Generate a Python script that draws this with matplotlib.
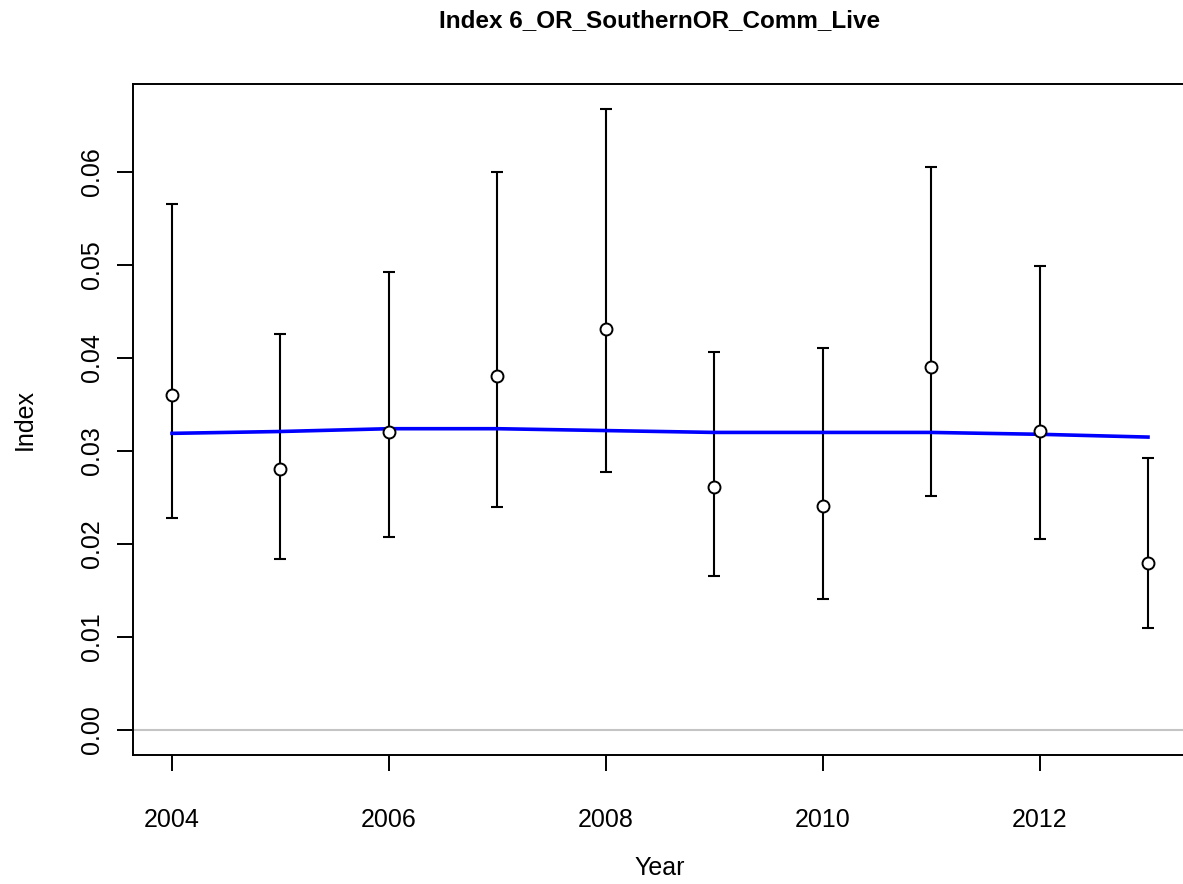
import matplotlib
import matplotlib.pyplot as plt

matplotlib.use("agg")

years = [2004, 2005, 2006, 2007, 2008, 2009, 2010, 2011, 2012, 2013]
obs = [0.0360, 0.0281, 0.0320, 0.0381, 0.0431, 0.0261, 0.0241, 0.0390, 0.0321, 0.0180]
upper = [0.0566, 0.0426, 0.0493, 0.0600, 0.0668, 0.0406, 0.0411, 0.0605, 0.0499, 0.0293]
lower = [0.0228, 0.0184, 0.0208, 0.0240, 0.0277, 0.0166, 0.0141, 0.0252, 0.0205, 0.0110]
expected = [0.0319, 0.0321, 0.0324, 0.0324, 0.0322, 0.0320, 0.0320, 0.0320, 0.0318, 0.0315]

plt.rcParams["font.family"] = ["Liberation Sans", "DejaVu Sans"]

fig = plt.figure(figsize=(11.83, 8.84), dpi=100)
ax = fig.add_axes([0.1124, 0.1459, 0.891, 0.759])

ax.axhline(0, color="#c4c4c4", lw=1.5, zorder=1)

yerr = [[o - lo for o, lo in zip(obs, lower)], [hi - o for o, hi in zip(obs, upper)]]
ax.errorbar(years, obs, yerr=yerr, fmt="none", ecolor="black", elinewidth=1.5,
            capsize=4.3, capthick=1.5, zorder=2)
ax.plot(years, expected, color="#0000ff", lw=2.6, zorder=3)
ax.plot(years, obs, "o", ms=8.6, mfc="white", mec="black", mew=1.4, zorder=4)

ax.set_xlim(2003.64, 2013.36)
ax.set_ylim(-0.00269, 0.06946)
ax.set_xticks([2004, 2006, 2008, 2010, 2012])
ax.set_yticks([0.0, 0.01, 0.02, 0.03, 0.04, 0.05, 0.06])
ax.set_yticklabels([f"{v:.2f}" for v in ax.get_yticks()], rotation=90, va="center")

ax.tick_params(direction="out", length=11.5, width=1.4, labelsize=18)
ax.tick_params(axis="y", pad=9.5)
ax.tick_params(axis="x", pad=27)
for s in ax.spines.values():
    s.set_linewidth(1.4)

ax.set_xlabel("Year", fontsize=18, labelpad=17)
ax.set_ylabel("Index", fontsize=18, labelpad=31)
ax.set_title("Index 6_OR_SouthernOR_Comm_Live", fontsize=17.5, fontweight="bold", pad=41)

fig.savefig("out.png", dpi=100)
